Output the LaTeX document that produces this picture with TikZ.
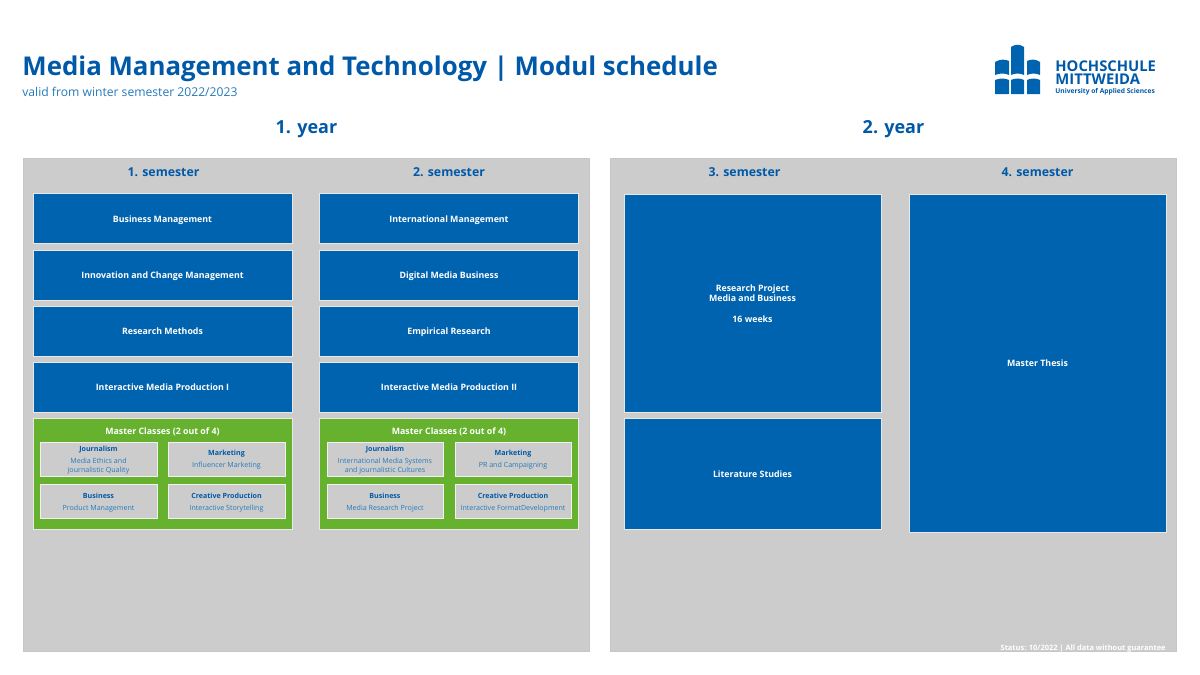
\documentclass[tikz,border=0pt]{standalone}
\usepackage{fontspec}
\setmainfont{Open Sans}
\definecolor{hsblue}{HTML}{0063AF}
\definecolor{hstitle}{HTML}{0059A8}
\definecolor{hsgrey}{HTML}{CCCCCC}
\definecolor{hsgreen}{HTML}{66B22E}
\tikzset{
  panel/.style = { rectangle, fill = hsgrey, draw = black!22, line width = 0.3pt,
                   minimum width = 283.2pt, minimum height = 246.7pt, inner sep = 0pt },
  modbox/.style = { rectangle, fill = hsblue, draw = white!55!hsgrey, line width = 0.3pt,
                    text = white, font = \fontsize{4.4}{5}\selectfont\bfseries,
                    align = center, inner sep = 0pt },
  oneline/.style = { text height = 4.6pt, text depth = 1pt },
  modrow/.style = { modbox, oneline, minimum width = 129.3pt, minimum height = 25pt },
  classbox/.style = { rectangle, fill = hsgreen, draw = white!55!hsgrey, line width = 0.3pt,
                      minimum width = 129.3pt, minimum height = 55.5pt, inner sep = 0pt },
  subbox/.style = { rectangle, fill = hsgrey, draw = white!70!hsgrey, line width = 0.3pt,
                    minimum width = 58.4pt, minimum height = 17pt, inner sep = 0pt },
  subhead/.style = { text = hstitle, font = \fontsize{3.55}{4.2}\selectfont\bfseries, inner sep = 0pt },
  subtext/.style = { text = hsblue!85!white, font = \fontsize{3.55}{4.2}\selectfont, align = center, inner sep = 0pt },
  classhead/.style = { text = white, font = \fontsize{4.4}{5}\selectfont\bfseries, inner sep = 0pt },
  yearhead/.style = { text = hstitle, font = \fontsize{9}{11}\selectfont\bfseries, inner sep = 0pt },
  semhead/.style = { text = hstitle, font = \fontsize{6.15}{8}\selectfont\bfseries, inner sep = 0pt },
  logotext/.style = { text = hstitle, anchor = west, inner sep = 0pt }
}
\begin{document}
\begin{tikzpicture}[x=0.5pt, y=-0.5pt]
  \useasboundingbox (0,0) rectangle (1200,675);
  % heading
  \node[anchor=west, inner sep=0pt, text=hstitle, font=\fontsize{12.92}{16}\selectfont\bfseries](title) at (22,69){Media Management and Technology | Modul schedule};
  \node[anchor=west, inner sep=0pt, text=hsblue!85!white, font=\fontsize{6.07}{8}\selectfont](valid) at (22,92){valid from winter semester 2022/2023};
  % logo
  \fill[hsblue] (995,62) .. controls (1000,59) and (1005,59) .. (1009,61) -- (1009,75) .. controls (1005,73) and (1000,73) .. (995,75) -- cycle;
  \fill[hsblue] (1011,47) .. controls (1015,44) and (1020,44) .. (1024,47) -- (1024,75) .. controls (1020,73) and (1015,73) .. (1011,75) -- cycle;
  \fill[hsblue] (1027,61) .. controls (1031,59) and (1036,59) .. (1040,62) -- (1040,75) .. controls (1036,73) and (1031,73) .. (1027,75) -- cycle;
  \fill[hsblue] (995,80) .. controls (1000,78) and (1005,78) .. (1009,80) -- (1009,94) -- (995,94) -- cycle;
  \fill[hsblue] (1011,80) .. controls (1015,78) and (1020,78) .. (1024,80) -- (1024,94) -- (1011,94) -- cycle;
  \fill[hsblue] (1027,80) .. controls (1031,78) and (1036,78) .. (1040,80) -- (1040,94) -- (1027,94) -- cycle;
  \node[logotext, font=\fontsize{7.4}{8}\selectfont\bfseries](hs) at (1055,66.5){HOCHSCHULE};
  \node[logotext, font=\fontsize{7.4}{8}\selectfont\bfseries](mw) at (1055,79.5){MITTWEIDA};
  \node[logotext, font=\fontsize{3.33}{4}\selectfont\bfseries](uas) at (1055,91.5){University of Applied Sciences};
  % years
  \node[yearhead](y1) at (306.5,129){1. year};
  \node[yearhead](y2) at (893.5,129){2. year};
  \node[panel](pa) at (306.5,405){};
  \node[panel](pb) at (893.5,405){};
  % first semester
  \node[semhead](s1) at (163.5,172.5){1. semester};
  \node[modrow](a1) at (162.5,218.6){Business Management};
  \node[modrow](a2) at (162.5,274.8){Innovation and Change Management};
  \node[modrow](a3) at (162.5,330.8){Research Methods};
  \node[modrow](a4) at (162.5,387){Interactive Media Production I};
  \node[classbox](ac) at (162.5,474){};
  \node[classhead](ach) at (162.5,431.5){Master Classes (2 out of 4)};
  \node[subbox](aj) at (98.5,458.8){};
  \node[subbox](am) at (226.5,458.8){};
  \node[subbox](ab) at (98.5,501.3){};
  \node[subbox](ap) at (226.5,501.3){};
  \node[subhead](ajh) at (98.5,449.5){Journalism};
  \node[subtext](ajt) at (98.5,466){Media Ethics and\\journalistic Quality};
  \node[subhead](amh) at (226.5,453.5){Marketing};
  \node[subtext](amt) at (226.5,466){Influencer Marketing};
  \node[subhead](abh) at (98.5,495.5){Business};
  \node[subtext](abt) at (98.5,508.5){Product Management};
  \node[subhead](aph) at (226.5,495.5){Creative Production};
  \node[subtext](apt) at (226.5,508.5){Interactive Storytelling};
  % second semester
  \node[semhead](s2) at (449,172.5){2. semester};
  \node[modrow](b1) at (449,218.6){International Management};
  \node[modrow](b2) at (449,274.8){Digital Media Business};
  \node[modrow](b3) at (449,330.8){Empirical Research};
  \node[modrow](b4) at (449,387){Interactive Media Production II};
  \node[classbox](bc) at (449,474){};
  \node[classhead](bch) at (449,431.5){Master Classes (2 out of 4)};
  \node[subbox](bj) at (385.2,458.8){};
  \node[subbox](bm) at (513.3,458.8){};
  \node[subbox](bb) at (385.2,501.3){};
  \node[subbox](bp) at (513.3,501.3){};
  \node[subhead](bjh) at (385,449.5){Journalism};
  \node[subtext](bjt) at (385,466){International Media Systems\\and journalistic Cultures};
  \node[subhead](bmh) at (513,453.5){Marketing};
  \node[subtext](bmt) at (513,466){PR and Campaigning};
  \node[subhead](bbh) at (385,495.5){Business};
  \node[subtext](bbt) at (385,508.5){Media Research Project};
  \node[subhead](bph) at (513,495.5){Creative Production};
  \node[subtext](bpt) at (513,508.5){Interactive FormatDevelopment};
  % third and fourth semester
  \node[semhead](s3) at (744.5,172.5){3. semester};
  \node[semhead](s4) at (1037.5,172.5){4. semester};
  \node[modbox, minimum width=128.4pt, minimum height=109pt](c1) at (752.5,303.5){Research Project\\Media and Business\\[5.4pt]16 weeks};
  \node[modbox, oneline, minimum width=128.4pt, minimum height=55.5pt](c2) at (752.5,474.2){Literature Studies};
  \node[modbox, oneline, minimum width=128.4pt, minimum height=169pt](d1) at (1037.5,362.8){Master Thesis};
  \node[anchor=east, inner sep=0pt, text=white, font=\fontsize{3.72}{5}\selectfont\bfseries](status) at (1166,648.5){Status: 10/2022 | All data without guarantee};
\end{tikzpicture}
\end{document}
